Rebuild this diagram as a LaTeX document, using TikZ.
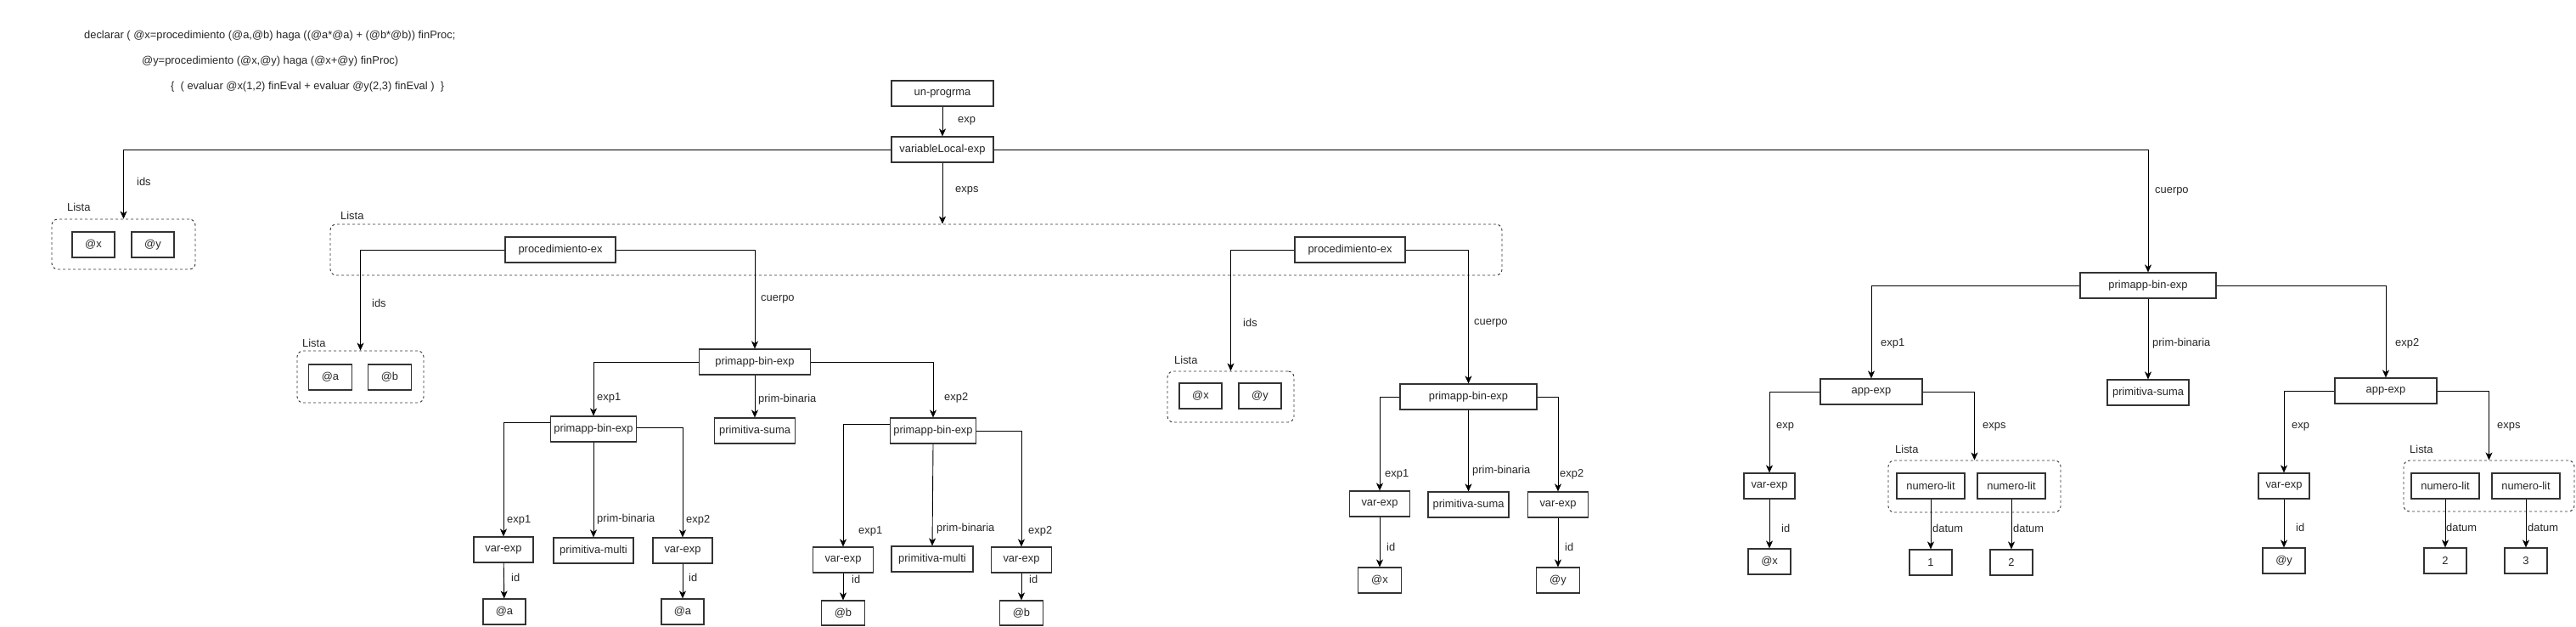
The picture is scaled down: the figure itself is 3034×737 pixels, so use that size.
\documentclass[tikz,border=0pt]{standalone}
\usepackage{fontspec}
\setmainfont{Liberation Sans}
\usetikzlibrary{arrows.meta}
\begin{document}
\begin{tikzpicture}[x=1pt,y=-1pt,
  every node/.style={font=\fontsize{12.9pt}{15pt}\selectfont, text=black!85},
  box/.style={draw=black!80, line width=1.1pt, minimum height=30pt, inner sep=0pt},
  lst/.style={draw=black!80, line width=0.9pt, dash pattern=on 3pt off 3pt, rounded corners=7pt, inner sep=0pt},
  conn/.style={draw=black, line width=0.9pt, -{Stealth[length=9pt,width=8pt,inset=2.5pt]}},
  lbl/.style={anchor=west, inner sep=0pt},
  code/.style={anchor=west, inner sep=0pt}]
\useasboundingbox (0,0) rectangle (3034,737);

% code text
\node[code] (c1) at (99,42) {declarar ( @x=procedimiento (@a,@b) haga ((@a*@a) + (@b*@b)) finProc;};
\node[code] (c2) at (167,72) {@y=procedimiento (@x,@y) haga (@x+@y) finProc)};
\node[code] (c3) at (201,102) {\{\ \ ( evaluar @x(1,2) finEval + evaluar @y(2,3) finEval )\ \ \}};

% top
\node[box, minimum width=120pt] (prog) at (1110,110) {un-progrma};
\node[box, minimum width=120pt] (vle) at (1110,176) {variableLocal-exp};
\draw[conn] (prog) -- (vle);
\node[lbl] (lexp) at (1128,142) {exp};

% ids list (left)
\node[lst, minimum width=169pt, minimum height=59pt] (L0) at (145.5,287.5) {};
\node[lbl] (L0t) at (79,244) {Lista};
\node[box, minimum width=50pt] (x0) at (110,288) {@x};
\node[box, minimum width=50pt] (y0) at (180,288) {@y};
\draw[conn] (vle.west) -| (L0.north);
\node[lbl] (lids0) at (161,214) {ids};

% big list
\node[lst, minimum width=1380pt, minimum height=60pt] (L1) at (1079,294) {};
\node[lbl] (L1t) at (401,254) {Lista};
\draw[conn] (vle.south) -- (vle.south |- L1.north);
\node[lbl] (lexps) at (1125,224) {exps};

% procedimiento 1
\node[box, minimum width=130pt] (proc1) at (660,294) {procedimiento-ex};
\node[lst, minimum width=149pt, minimum height=61pt] (L2) at (424.5,443.5) {};
\node[lbl] (L2t) at (356,404) {Lista};
\node[box, minimum width=51pt] (a1) at (389,444) {@a};
\node[box, minimum width=51pt] (b1) at (459,444) {@b};
\draw[conn] (proc1.west) -| (L2.north);
\node[lbl] (lids1) at (438,357) {ids};

\node[box, minimum width=131pt] (pb1) at (889,426) {primapp-bin-exp};
\draw[conn] (proc1.east) -| (pb1.north);
\node[lbl] (lcu1) at (896,352) {cuerpo};

\node[box, minimum width=101pt] (pb1a) at (699,505) {primapp-bin-exp};
\node[box, minimum width=95pt] (ps1) at (889,507) {primitiva-suma};
\node[box, minimum width=101pt] (pb1b) at (1099,507) {primapp-bin-exp};
\draw[conn] (pb1.west) -| (pb1a.north);
\draw[conn] (pb1.south) -- (ps1.north);
\draw[conn] (pb1.east) -| (pb1b.north);
\node[lbl] (le11) at (703,468) {exp1};
\node[lbl] (lpb1) at (893,470) {prim-binaria};
\node[lbl] (le21) at (1112,468) {exp2};

% pb1a subtree
\node[box, minimum width=70pt] (va1) at (593,647) {var-exp};
\node[box, minimum width=94pt] (pm1) at (699,648) {primitiva-multi};
\node[box, minimum width=70pt] (va2) at (804,648) {var-exp};
\draw[conn] ([yshift=8pt]pb1a.west) -| (va1.north);
\draw[conn] (pb1a.south) -- (pm1.north);
\draw[conn] ([yshift=2pt]pb1a.east) -| (va2.north);
\node[lbl] (le12) at (597,612) {exp1};
\node[lbl] (lpb2) at (703,611) {prim-binaria};
\node[lbl] (le22) at (808,612) {exp2};
\node[box, minimum width=50pt] (aa1) at (594,720) {@a};
\node[box, minimum width=50pt] (aa2) at (804,720) {@a};
\draw[conn] (va1) -- (aa1);
\draw[conn] (va2) -- (aa2);
\node[lbl] (lid1) at (602,680) {id};
\node[lbl] (lid2) at (811,680) {id};

% pb1b subtree
\node[box, minimum width=71pt] (va3) at (993,659) {var-exp};
\node[box, minimum width=96pt] (pm2) at (1098,658) {primitiva-multi};
\node[box, minimum width=71pt] (va4) at (1203,659) {var-exp};
\draw[conn] ([yshift=8pt]pb1b.west) -| (va3.north);
\draw[conn] (pb1b.south) -- (pm2.north);
\draw[conn] (pb1b.east) -| (va4.north);
\node[lbl] (le13) at (1011,625) {exp1};
\node[lbl] (lpb3) at (1103,622) {prim-binaria};
\node[lbl] (le23) at (1211,625) {exp2};
\node[box, minimum width=51pt, minimum height=29pt] (bb1) at (993,721.5) {@b};
\node[box, minimum width=51pt, minimum height=29pt] (bb2) at (1203,721.5) {@b};
\draw[conn] (va3) -- (bb1);
\draw[conn] (va4) -- (bb2);
\node[lbl] (lid3) at (1003,682) {id};
\node[lbl] (lid4) at (1212,682) {id};

% procedimiento 2
\node[box, minimum width=130pt] (proc2) at (1590,294) {procedimiento-ex};
\node[lst, minimum width=149pt, minimum height=60pt] (L3) at (1449.5,467) {};
\node[lbl] (L3t) at (1383,424) {Lista};
\node[box, minimum width=50pt] (x3) at (1414,466) {@x};
\node[box, minimum width=50pt] (y3) at (1484,466) {@y};
\draw[conn] (proc2.west) -| (L3.north);
\node[lbl] (lids3) at (1464,380) {ids};

\node[box, minimum width=161pt] (pb2) at (1729.5,467) {primapp-bin-exp};
\draw[conn] (proc2.east) -| (pb2.north);
\node[lbl] (lcu2) at (1736,380) {cuerpo};
\node[box, minimum width=71pt] (va5) at (1625,593) {var-exp};
\node[box, minimum width=95pt] (ps2) at (1729.5,594) {primitiva-suma};
\node[box, minimum width=71pt] (va6) at (1835,594) {var-exp};
\draw[conn] (pb2.west) -| (va5.north);
\draw[conn] (pb2.south) -- (ps2.north);
\draw[conn] (pb2.east) -| (va6.north);
\node[lbl] (le14) at (1631,558) {exp1};
\node[lbl] (lpb4) at (1734,554) {prim-binaria};
\node[lbl] (le24) at (1837,558) {exp2};
\node[box, minimum width=51pt] (xx) at (1625,683) {@x};
\node[box, minimum width=51pt] (yy) at (1835,683) {@y};
\draw[conn] (va5) -- (xx);
\draw[conn] (va6) -- (yy);
\node[lbl] (lid5) at (1633,644) {id};
\node[lbl] (lid6) at (1843,644) {id};

% cuerpo (right)
\node[box, minimum width=160pt] (pb3) at (2530,336) {primapp-bin-exp};
\draw[conn] (vle.east) -| (pb3.north);
\node[lbl] (lcu3) at (2538,225) {cuerpo};
\node[box, minimum width=120pt] (ap1) at (2204,461) {app-exp};
\node[box, minimum width=96pt] (ps3) at (2530,462) {primitiva-suma};
\node[box, minimum width=120pt] (ap2) at (2810,460) {app-exp};
\draw[conn] (pb3.west) -| (ap1.north);
\draw[conn] (pb3.south) -- (ps3.north);
\draw[conn] (pb3.east) -| (ap2.north);
\node[lbl] (le15) at (2215,404) {exp1};
\node[lbl] (lpb5) at (2535,404) {prim-binaria};
\node[lbl] (le25) at (2821,404) {exp2};

% app-exp 1
\node[box, minimum width=60pt] (va7) at (2084,572) {var-exp};
\node[box, minimum width=50pt] (x7) at (2084,661) {@x};
\draw[conn] (ap1.west) -| (va7.north);
\draw[conn] (va7) -- (x7);
\node[lbl] (lexp7) at (2092,502) {exp};
\node[lbl] (lid7) at (2098,622) {id};
\node[lst, minimum width=203pt, minimum height=61pt] (L4) at (2325.5,572.5) {};
\node[lbl] (L4t) at (2232,529) {Lista};
\draw[conn] (ap1.east) -| (L4.north);
\node[lbl] (lexps7) at (2335,502) {exps};
\node[box, minimum width=80pt] (n1) at (2274,572) {numero-lit};
\node[box, minimum width=80pt] (n2) at (2369,572) {numero-lit};
\node[box, minimum width=50pt] (d1) at (2274,662) {1};
\node[box, minimum width=50pt] (d2) at (2369,662) {2};
\draw[conn] (n1) -- (d1);
\draw[conn] (n2) -- (d2);
\node[lbl] (ld1) at (2276,622) {datum};
\node[lbl] (ld2) at (2371,622) {datum};

% app-exp 2
\node[box, minimum width=60pt] (va8) at (2690,572) {var-exp};
\node[box, minimum width=50pt] (y8) at (2690,660) {@y};
\draw[conn] (ap2.west) -| (va8.north);
\draw[conn] (va8) -- (y8);
\node[lbl] (lexp8) at (2699,502) {exp};
\node[lbl] (lid8) at (2704,621) {id};
\node[lst, minimum width=201pt, minimum height=60pt] (L5) at (2931.5,572) {};
\node[lbl] (L5t) at (2838,529) {Lista};
\draw[conn] (ap2.east) -| (L5.north);
\node[lbl] (lexps8) at (2941,502) {exps};
\node[box, minimum width=80pt] (n3) at (2880,572) {numero-lit};
\node[box, minimum width=80pt] (n4) at (2975,572) {numero-lit};
\node[box, minimum width=50pt] (d3) at (2880,660) {2};
\node[box, minimum width=50pt] (d4) at (2975,660) {3};
\draw[conn] (n3) -- (d3);
\draw[conn] (n4) -- (d4);
\node[lbl] (ld3) at (2881,621) {datum};
\node[lbl] (ld4) at (2977,621) {datum};
\end{tikzpicture}
\end{document}
